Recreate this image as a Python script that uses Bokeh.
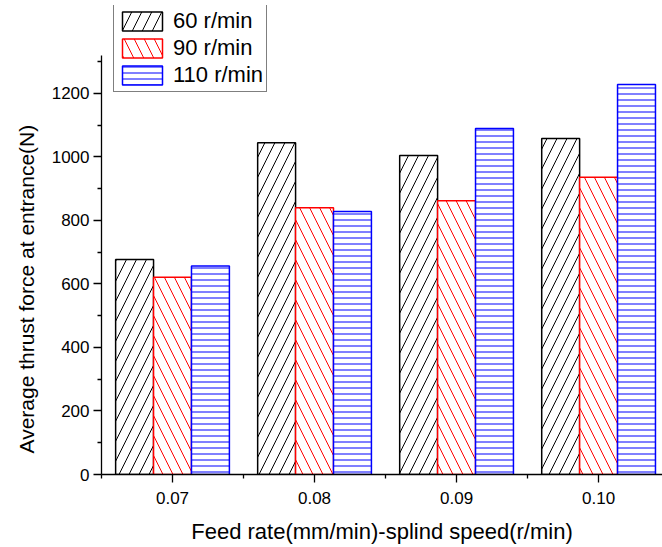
from bokeh.plotting import figure
from bokeh.models import Range1d, FixedTicker, Legend, LegendItem, ColumnDataSource, Title
from bokeh.embed import file_html
from bokeh.resources import INLINE

categories = ["0.07", "0.08", "0.09", "0.10"]
series_names = ["60 r/min", "90 r/min", "110 r/min"]
v60 = [677, 1045, 1005, 1058]
v90 = [621, 840, 862, 936]
v110 = [657, 828, 1090, 1228]
y_ticks = [0, 200, 400, 600, 800, 1000, 1200]
y_minor = [100, 300, 500, 700, 900, 1100, 1300]
y_axis_end = 1320

FONT = "Liberation Sans"
pos = [1, 2, 3, 4]
bw = 0.267

p = figure(width=662, height=547, output_backend="svg", toolbar_location=None,
           x_range=Range1d(0.5, 4.45), y_range=Range1d(0, 1477),
           min_border_left=101, min_border_top=5, min_border_bottom=73, min_border_right=0)
p.outline_line_color = None
p.xgrid.visible = False
p.ygrid.visible = False

styles = [
    (v60, -bw, "black", "/", 20),
    (v90, 0.0, "red", "\\", 20),
    (v110, bw, "blue", "-", 6),
]
renderers = []
for vals, off, col, hatch, hs in styles:
    src = ColumnDataSource(dict(x=[q + off for q in pos], top=vals))
    r = p.vbar(x="x", top="top", width=bw, bottom=0, source=src,
               fill_color="white", line_color=col, line_width=1.5,
               hatch_pattern=hatch, hatch_color=col, hatch_scale=hs, hatch_weight=1)
    renderers.append(r)

# x axis
p.xaxis.ticker = FixedTicker(ticks=pos, minor_ticks=[0.5, 1.5, 2.5, 3.5])
p.xaxis.major_label_overrides = {q: c for q, c in zip(pos, categories)}
p.xaxis.major_tick_in = 0
p.xaxis.major_tick_out = 8
p.xaxis.minor_tick_in = 0
p.xaxis.minor_tick_out = 4
p.xaxis.major_label_standoff = 9
p.xaxis.axis_label = "Feed rate(mm/min)-splind speed(r/min)"
p.xaxis.axis_label_standoff = 12

# y axis
p.yaxis.ticker = FixedTicker(ticks=y_ticks, minor_ticks=y_minor)
p.yaxis.bounds = (0, y_axis_end)
p.yaxis.major_tick_in = 0
p.yaxis.major_tick_out = 8
p.yaxis.minor_tick_in = 0
p.yaxis.minor_tick_out = 4
p.yaxis.major_label_standoff = 4

for ax in (p.xaxis, p.yaxis):
    ax.axis_line_color = "black"
    ax.axis_line_width = 1.3
    ax.major_tick_line_color = "black"
    ax.major_tick_line_width = 1.3
    ax.minor_tick_line_color = "black"
    ax.minor_tick_line_width = 1.3
    ax.major_label_text_font = FONT
    ax.major_label_text_font_size = "17px"
    ax.major_label_text_color = "black"
    ax.axis_label_text_font = FONT
    ax.axis_label_text_font_size = "22px"
    ax.axis_label_text_font_style = "normal"
    ax.axis_label_text_color = "black"

ytitle = Title(text="Average thrust force at entrance(N)", align="left", offset=21,
               text_font=FONT, text_font_size="21px", text_font_style="normal",
               text_color="black", standoff=22)
p.add_layout(ytitle, "left")

legend = Legend(items=[LegendItem(label=n, renderers=[r]) for n, r in zip(series_names, renderers)],
                location=(12, 382))
legend.label_text_font = FONT
legend.label_text_font_size = "22px"
legend.label_text_color = "black"
legend.glyph_width = 50
legend.glyph_height = 24
legend.spacing = 1
legend.padding = 3
legend.margin = 0
legend.label_standoff = 6
legend.label_height = 24
legend.border_line_color = "black"
legend.border_line_width = 1
legend.background_fill_alpha = 1
p.add_layout(legend)

open("out.html", "w").write(file_html(p, INLINE))
